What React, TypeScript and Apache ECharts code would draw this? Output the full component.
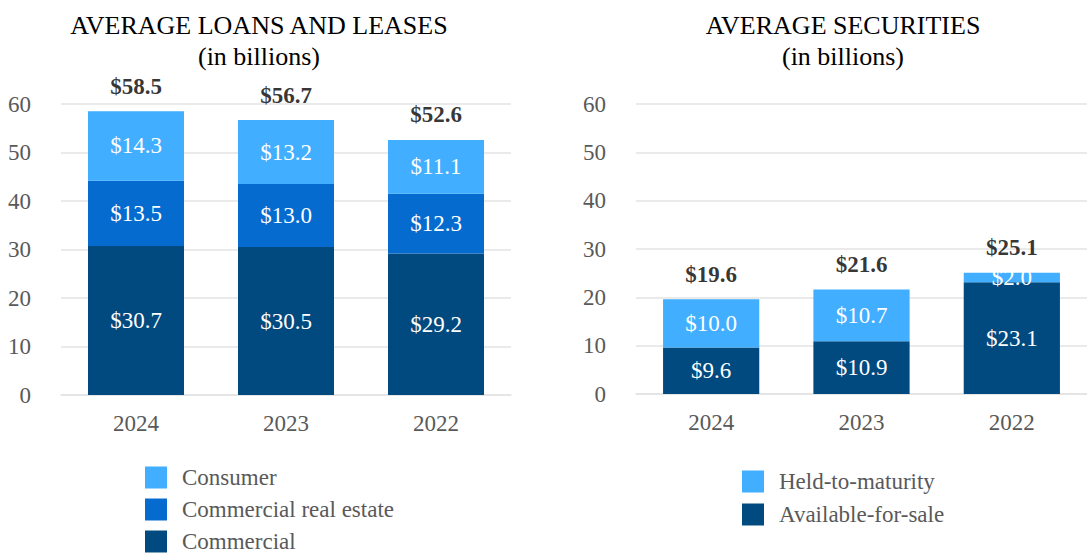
import React, { useEffect, useRef } from "react";
import * as echarts from "echarts";

const loanYears = ["2024", "2023", "2022"];
const consumer = [14.3, 13.2, 11.1];
const commercialRealEstate = [13.5, 13.0, 12.3];
const commercial = [30.7, 30.5, 29.2];

const secYears = ["2024", "2023", "2022"];
const heldToMaturity = [10.0, 10.7, 2.0];
const availableForSale = [9.6, 10.9, 23.1];

const yTicks = { min: 0, max: 60, interval: 10 };

const LIGHT = "#41AEFF";
const MID = "#066BCF";
const DARK = "#004A7F";
const FONT = "Liberation Serif";
const GRAY = "#595959";
const FS = 23;

const sumArrays = (...arrs: number[][]) =>
  arrs[0].map((_, i) => Math.round(arrs.reduce((s, a) => s + a[i], 0) * 10) / 10);

export default function App() {
  const ref = useRef<HTMLDivElement>(null);
  useEffect(() => {
    if (!ref.current) return;
    const chart = echarts.init(ref.current, undefined, { renderer: "svg" });
    const loanTotals = sumArrays(consumer, commercialRealEstate, commercial);
    const secTotals = sumArrays(heldToMaturity, availableForSale);

    const insideLabel = {
      show: true,
      position: "inside",
      color: "#ffffff",
      fontFamily: FONT,
      fontSize: FS,
      formatter: (p: any) => "$" + Number(p.value).toFixed(1),
    };
    const totalLabel = {
      show: true,
      position: "top",
      distance: 13,
      color: "#000000",
      fontFamily: FONT,
      fontSize: FS,
      fontWeight: "bold",
      formatter: (p: any) => "$" + Number(p.value).toFixed(1),
    };
    const yAxisBase = {
      type: "value",
      min: yTicks.min,
      max: yTicks.max,
      interval: yTicks.interval,
      axisLine: { show: false },
      axisTick: { show: false },
      axisLabel: { color: GRAY, fontFamily: FONT, fontSize: FS, margin: 30 },
      splitLine: { lineStyle: { color: "#E3E3E3", width: 1.5 } },
    };
    const xAxisBase = {
      type: "category",
      axisLine: { lineStyle: { color: "#E3E3E3", width: 1.5 } },
      axisTick: { show: false },
      axisLabel: { color: GRAY, fontFamily: FONT, fontSize: FS, margin: 17 },
    };
    const legendBase = {
      orient: "vertical",
      icon: "rect",
      itemWidth: 22,
      itemHeight: 22,
      itemGap: 10,
      padding: 0,
      textStyle: {
        color: GRAY,
        fontFamily: FONT,
        fontSize: FS,
        lineHeight: 20,
        padding: [0, 0, 0, 10],
      },
    };

    chart.setOption({
      animation: false,
      backgroundColor: "#ffffff",
      graphic: [
        {
          type: "text",
          x: 259,
          y: 10,
          style: {
            text: "AVERAGE LOANS AND LEASES\n(in billions)",
            font: `26px ${FONT}`,
            fill: "#000000",
            textAlign: "center",
            textVerticalAlign: "top",
            lineHeight: 31,
          },
        },
        {
          type: "text",
          x: 843,
          y: 10,
          style: {
            text: "AVERAGE SECURITIES\n(in billions)",
            font: `26px ${FONT}`,
            fill: "#000000",
            textAlign: "center",
            textVerticalAlign: "top",
            lineHeight: 31,
          },
        },
      ],
      grid: [
        { left: 61, width: 450, top: 104, height: 291 },
        { left: 636, width: 462, top: 104, height: 290 },
      ],
      xAxis: [
        { ...xAxisBase, gridIndex: 0, data: loanYears },
        { ...xAxisBase, gridIndex: 1, data: secYears },
      ],
      yAxis: [
        { ...yAxisBase, gridIndex: 0 },
        { ...yAxisBase, gridIndex: 1 },
      ],
      legend: [
        {
          ...legendBase,
          left: 145,
          top: 466,
          itemGap: 9,
          data: ["Consumer", "Commercial real estate", "Commercial"],
        },
        {
          ...legendBase,
          left: 742,
          top: 470,
          data: ["Held-to-maturity", "Available-for-sale"],
        },
      ],
      series: [
        {
          name: "Commercial",
          type: "bar",
          stack: "loans",
          xAxisIndex: 0,
          yAxisIndex: 0,
          barWidth: "64%",
          data: commercial,
          itemStyle: { color: DARK },
          label: insideLabel,
        },
        {
          name: "Commercial real estate",
          type: "bar",
          stack: "loans",
          xAxisIndex: 0,
          yAxisIndex: 0,
          barWidth: "64%",
          data: commercialRealEstate,
          itemStyle: { color: MID },
          label: insideLabel,
        },
        {
          name: "Consumer",
          type: "bar",
          stack: "loans",
          xAxisIndex: 0,
          yAxisIndex: 0,
          barWidth: "64%",
          data: consumer,
          itemStyle: { color: LIGHT },
          label: insideLabel,
        },
        {
          name: "loanTotal",
          type: "scatter",
          xAxisIndex: 0,
          yAxisIndex: 0,
          symbolSize: 1,
          itemStyle: { color: "rgba(0,0,0,0)" },
          data: loanTotals,
          label: totalLabel,
          silent: true,
        },
        {
          name: "Available-for-sale",
          type: "bar",
          stack: "sec",
          xAxisIndex: 1,
          yAxisIndex: 1,
          barWidth: "64%",
          data: availableForSale,
          itemStyle: { color: DARK },
          label: insideLabel,
        },
        {
          name: "Held-to-maturity",
          type: "bar",
          stack: "sec",
          xAxisIndex: 1,
          yAxisIndex: 1,
          barWidth: "64%",
          data: heldToMaturity,
          itemStyle: { color: LIGHT },
          label: insideLabel,
        },
        {
          name: "secTotal",
          type: "scatter",
          xAxisIndex: 1,
          yAxisIndex: 1,
          symbolSize: 1,
          itemStyle: { color: "rgba(0,0,0,0)" },
          data: secTotals,
          label: totalLabel,
          silent: true,
        },
      ],
    });
    return () => chart.dispose();
  }, []);
  return (
    <div
      ref={ref}
      style={{ position: "fixed", left: 0, top: 0, width: 1087, height: 620 }}
    />
  );
}
